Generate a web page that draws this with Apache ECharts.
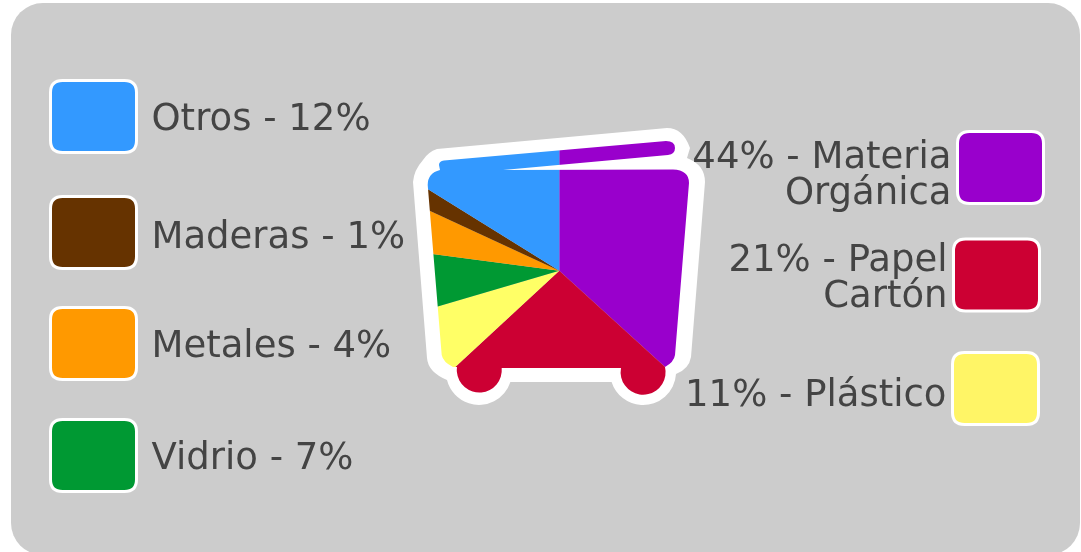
<!DOCTYPE html>
<html><head><meta charset="utf-8">
<style>html,body{margin:0;padding:0;background:#fff}#c{width:1081px;height:552px;filter:blur(0.6px)}</style>
<script src="https://cdn.jsdelivr.net/npm/echarts@6/dist/echarts.min.js"></script>
</head><body><div id="c"></div>
<script>
// Categories in drawing order, clockwise from 12 o'clock
const categories = ['Materia Orgánica','Papel Cartón','Plástico','Vidrio','Metales','Maderas','Otros'];
// Percentages printed in the labels
const statedPercent = [44,21,11,7,4,1,12];
const drawnSlices = [132.3,94.9,26.4,23.9,17.3,7.0,58.2];
const sliceColors = ['#9900CC','#CC0033','#FFFF66','#009933','#FF9900','#663300','#3399FF'];
const swatchColors = ['#9900CC','#CC0033','#FFF566','#009933','#FF9900','#663300','#3399FF'];
const legendText = [['44% - Materia','Orgánica'],['21% - Papel','Cartón'],['11% - Plástico'],['Vidrio - 7%'],['Metales - 4%'],['Maderas - 1%'],['Otros - 12%']];

// Layout of legends
const legendPlace = [
  {right:36, top:122, align:'right', padTop:18},
  {right:40, top:234, align:'right', padTop:9},
  {right:41, top:351, align:'right', padTop:16},
  {left:49, top:418, align:'left', padTop:8},
  {left:49, top:306, align:'left', padTop:8},
  {left:49, top:195, align:'left', padTop:12},
  {left:49, top:79, align:'left', padTop:8}
];
const swatchIcon = 'path://M12 0H74Q86 0 86 12V60Q86 72 74 72H12Q0 72 0 60V12Q0 0 12 0Z';

const binShape = 'M439 165Q439 161 444 160.5L666 141Q675 141 675 148Q675 154 668 155L503 170L673 169.5Q689 170 689 183L675 355Q674 362 665 367A22.5 22.5 0 1 1 621 368L501.7 368A22.5 22.5 0 1 1 457 367L453 367Q443 362 441.7 355L427.7 185Q427.7 173 440 170Z';
const binOutline = 'M437 149L667 128Q683 128 690 148L687 158Q705 165 705 182L691 357Q689 369 676 374A33 33 0 0 1 611.6 382L510.4 382A33 33 0 0 1 447 380Q428 372 427 358L413 182Q414 170 423 160Q428 152 437 149Z';
// Outer ring drawn the opposite way so the shapes above become holes
const ring = 'M385 95V445H735V95Z';
const ringBox = {x:385,y:95,width:350,height:350};

const chart = echarts.init(document.getElementById('c'), null, {renderer:'canvas'});
chart.setOption({
  animation:false,
  backgroundColor:'#fff',
  graphic:[
    {type:'rect', z:-1, silent:true, shape:{x:11,y:3,width:1069,height:552,r:32}, style:{fill:'#CCCCCC'}}
  ],
  legend: categories.map((c,i)=>{
    const {padTop,align,...pos}=legendPlace[i];
    const sidePad = align==='left' ? [0,0,0,10] : [0,1,0,0];
    const font = {fontFamily:'DejaVu Sans',fontSize:37,color:'#444444',lineHeight:36,align};
    return Object.assign({
    z:10, orient:'vertical', selectedMode:false, align,
    itemWidth:86, itemHeight:72, itemGap:0, padding:0,
    icon:swatchIcon,
    itemStyle:{borderColor:'#fff',borderWidth:3},
    data:[{name:c, itemStyle:{color:swatchColors[i],borderColor:'#fff',borderWidth:3}}],
    formatter:()=>legendText[i].map(l=>`{a|${l}}`).join('\n'),
    textStyle:Object.assign({},font,{rich:{
      a:Object.assign({},font,{padding:[padTop,sidePad[1],0,sidePad[3]]})
    }})
  }, pos);}),
  series:[{
    type:'pie', silent:true, z:2,
    center:[559.3,270.7], radius:[0,172], startAngle:90, clockwise:true,
    label:{show:false}, labelLine:{show:false}, emphasis:{disabled:true},
    itemStyle:{borderWidth:0},
    avoidLabelOverlap:false,
    data:categories.map((c,i)=>({name:c,value:drawnSlices[i],itemStyle:{color:sliceColors[i]}}))
  },{
    type:'custom', coordinateSystem:'none', silent:true, z:5, data:[0], clip:false,
    renderItem:()=>({type:'group',children:[
      {type:'path', z2:1, shape:Object.assign({pathData:ring+binShape, layout:'cover'},ringBox), style:{fill:'#FFFFFF'}},
      {type:'path', z2:2, shape:Object.assign({pathData:ring+binOutline, layout:'cover'},ringBox), style:{fill:'#CCCCCC'}}
    ]})
  }]
});
</script></body></html>
